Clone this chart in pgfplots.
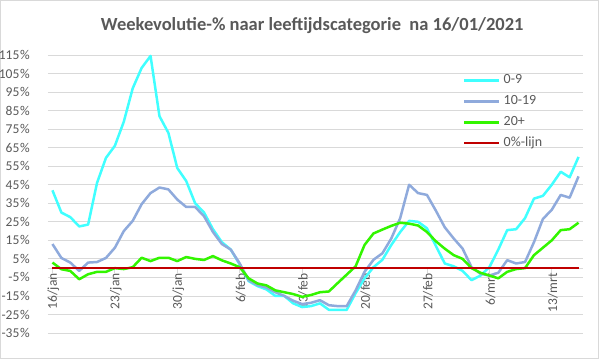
\documentclass[border=0pt]{standalone}
\usepackage{fontspec}
\setmainfont{Carlito}
\usepackage{pgfplots}
\usepackage{pgfplotstable}
\pgfplotsset{compat=1.18}
\definecolor{txtgray}{HTML}{595959}
\definecolor{gridgray}{HTML}{D9D9D9}
\definecolor{ccyan}{HTML}{40FFFF}
\definecolor{cblue}{HTML}{8FAADC}
\definecolor{cgreen}{HTML}{33F500}
\definecolor{cred}{HTML}{C00000}
\newcommand{\pc}{\kern0.8bp\%}
\pgfplotstableread{
d c b g z
0 42 13 3 0
1 30 5.5 -0.6 0
2 27.5 3 -1.5 0
3 22.5 -1.5 -6 0
4 23.5 3 -3.3 0
5 46 3.3 -2 0
6 59.5 5.5 -2 0
7 66 11 0 0
8 79 20 -0.5 0
9 97 25.5 0.5 0
10 108 34.5 5.6 0
11 114.5 40.5 3.8 0
12 82 43.5 5.6 0
13 73 42.5 5.6 0
14 54 37 3.8 0
15 47 33 6 0
16 35 33 5 0
17 30 28 4.4 0
18 21 19.5 6.5 0
19 14 13 4.2 0
20 10 10 2.5 0
21 2 2.5 0.5 0
22 -7 -6.5 -5.5 0
23 -9.7 -9.2 -8.3 0
24 -11.5 -10.5 -9.3 0
25 -15 -13 -12 0
26 -15 -15 -13 0
27 -19 -17.6 -14 0
28 -21 -19.4 -15.5 0
29 -20.5 -18.7 -14.5 0
30 -19 -17.3 -13 0
31 -22.5 -20 -12.6 0
32 -22.5 -20.5 -8 0
33 -22.5 -20.5 -3.5 0
34 -13.5 -12 1 0
35 -5.5 -2 12.5 0
36 0.5 4.5 18.7 0
37 4.5 8 20.8 0
38 12.5 16 22.8 0
39 19.5 27 24.5 0
40 25.5 45 24 0
41 25 40.5 23 0
42 21.5 39.5 19.5 0
43 12 31 14.5 0
44 2.5 22 10.5 0
45 1 16 7 0
46 -1.5 10.5 5 0
47 -6.5 0.5 0 0
48 -4 -3 -2.5 0
49 0.5 -4 -4 0
50 10 -2.5 -5.5 0
51 20.5 4.3 -2 0
52 21 2.5 -0.5 0
53 27 3.3 0 0
54 37.5 14 7 0
55 39 26.5 11 0
56 45 31.5 15 0
57 52 39.5 20.5 0
58 49 38 21 0
59 60 49.5 24.5 0
}\datatable
\begin{document}
\begin{tikzpicture}
\path[use as bounding box] (0,0) rectangle (599bp,359bp);
\draw[gridgray, line width=0.75bp] (0.4bp,0.4bp) rectangle (598.6bp,358.6bp);
\node[anchor=base west, inner sep=0pt, text=txtgray, font=\fontsize{18.5bp}{22bp}\selectfont\bfseries] at (100.7bp,328.3bp) {Weekevolutie-\% naar leeftijdscategorie\ \ na 16/01/2021};
\begin{axis}[
  at={(48bp,26bp)}, anchor=south west,
  scale only axis, width=535bp, height=278bp,
  xmin=-0.5, xmax=59.5, ymin=-35, ymax=115,
  axis x line*=middle, axis y line*=left,
  x axis line style={-, draw=gridgray, line width=0.75bp},
  y axis line style={draw=none},
  ytick={-35,-25,...,115},
  yticklabels={-35\pc,-25\pc,-15\pc,-5\pc,5\pc,15\pc,25\pc,35\pc,45\pc,55\pc,65\pc,75\pc,85\pc,95\pc,105\pc,115\pc},
  xtick={0,7,...,56},
  xticklabels={16/jan,23/jan,30/jan,6/feb,13/feb,20/feb,27/feb,6/mrt,13/mrt},
  ymajorgrids, grid style={gridgray, line width=0.75bp},
  tick align=outside,
  ytick style={draw=none},
  xtick style={gridgray, line width=0.75bp},
  major tick length=5bp,
  tick label style={text=txtgray, font=\fontsize{13.5bp}{15bp}\selectfont},
  yticklabel style={anchor=east, inner sep=0pt, xshift=-13bp},
  xticklabel style={rotate=90, anchor=east, inner sep=0pt, yshift=-1bp},
  legend style={at={(0.7757,0.932)}, anchor=north west, draw=none, fill=none, inner sep=0pt, outer sep=0pt,
    font=\fontsize{14bp}{16bp}\selectfont, text=txtgray, row sep=8bp,
    nodes={inner sep=0pt, text height=10bp, text depth=3bp}},
  legend cell align=left,
  legend image code/.code={\draw[#1] (0bp,0bp) -- (35bp,0bp);},
  every axis plot/.append style={line join=round},
]
\addplot[ccyan, line width=2.5bp, mark=none] table[x=d,y=c]{\datatable};
\addlegendentry{\ 0-9}
\addplot[cblue, line width=2.5bp, mark=none] table[x=d,y=b]{\datatable};
\addlegendentry{\ 10-19}
\addplot[cgreen, line width=2.5bp, mark=none] table[x=d,y=g]{\datatable};
\addlegendentry{\ 20+}
\addplot[cred, line width=2bp, mark=none] table[x=d,y=z]{\datatable};
\addlegendentry{\ 0\%-lijn}
\end{axis}
\end{tikzpicture}
\end{document}
